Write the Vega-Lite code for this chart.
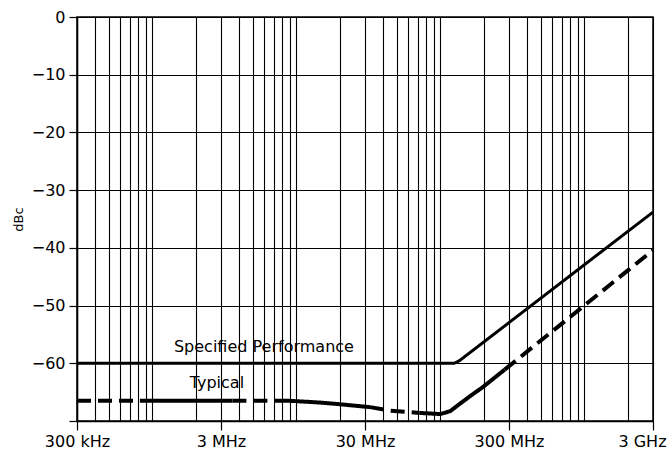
{
  "$schema": "https://vega.github.io/schema/vega-lite/v6.json",
  "width": 576,
  "height": 404,
  "autosize": {"type": "none"},
  "padding": {"left": 77, "top": 17, "right": 15, "bottom": 30},
  "background": "white",
  "config": {
    "view": {"stroke": "black", "strokeWidth": 1.5},
    "axis": {
      "labelFont": "DejaVu Sans",
      "titleFont": "DejaVu Sans",
      "labelColor": "black",
      "titleColor": "black",
      "domainColor": "black",
      "domainWidth": 1.5,
      "tickColor": "black",
      "tickWidth": 1.2,
      "gridColor": "black",
      "gridOpacity": 1,
      "gridWidth": 1.1,
      "labelFontSize": 16
    }
  },
  "datasets": {
    "curves": [
      {"series": "Specified", "seg": "s1", "style": "solid", "f": 300000, "dB": -60},
      {"series": "Specified", "seg": "s1", "style": "solid", "f": 125000000, "dB": -60},
      {"series": "Specified", "seg": "s1", "style": "solid", "f": 135000000, "dB": -59.6},
      {"series": "Specified", "seg": "s1", "style": "solid", "f": 3000000000, "dB": -33.8},
      {"series": "Typical", "seg": "t1", "style": "dashed", "f": 300000, "dB": -66.5},
      {"series": "Typical", "seg": "t1", "style": "dashed", "f": 820000, "dB": -66.5},
      {"series": "Typical", "seg": "t2", "style": "solid", "f": 820000, "dB": -66.5},
      {"series": "Typical", "seg": "t2", "style": "solid", "f": 3600000, "dB": -66.5},
      {"series": "Typical", "seg": "t3", "style": "dashed", "f": 3600000, "dB": -66.5},
      {"series": "Typical", "seg": "t3", "style": "dashed", "f": 8000000, "dB": -66.5},
      {"series": "Typical", "seg": "t4", "style": "solid", "f": 8000000, "dB": -66.5},
      {"series": "Typical", "seg": "t4", "style": "solid", "f": 9000000, "dB": -66.5},
      {"series": "Typical", "seg": "t4", "style": "solid", "f": 14600000, "dB": -66.8},
      {"series": "Typical", "seg": "t4", "style": "solid", "f": 20100000, "dB": -67.1},
      {"series": "Typical", "seg": "t4", "style": "solid", "f": 32500000, "dB": -67.6},
      {"series": "Typical", "seg": "t5", "style": "dashed", "f": 32500000, "dB": -67.6},
      {"series": "Typical", "seg": "t5", "style": "dashed", "f": 44800000, "dB": -68.2},
      {"series": "Typical", "seg": "t5", "style": "dashed", "f": 72000000, "dB": -68.6},
      {"series": "Typical", "seg": "t6", "style": "solid", "f": 72000000, "dB": -68.6},
      {"series": "Typical", "seg": "t6", "style": "solid", "f": 100000000, "dB": -68.8},
      {"series": "Typical", "seg": "t6", "style": "solid", "f": 117000000, "dB": -68.3},
      {"series": "Typical", "seg": "t6", "style": "solid", "f": 137000000, "dB": -67.0},
      {"series": "Typical", "seg": "t6", "style": "solid", "f": 161000000, "dB": -65.7},
      {"series": "Typical", "seg": "t6", "style": "solid", "f": 198000000, "dB": -64.1},
      {"series": "Typical", "seg": "t6", "style": "solid", "f": 280000000, "dB": -61.1},
      {"series": "Typical", "seg": "t7", "style": "dashed", "f": 280000000, "dB": -61.1},
      {"series": "Typical", "seg": "t7", "style": "dashed", "f": 3000000000, "dB": -40.4}
    ],
    "labels": [
      {"label": "Specified Performance", "f": 5960000, "dB": -57.1},
      {"label": "Typical", "f": 2810000, "dB": -63.4}
    ]
  },
  "encoding": {
    "x": {
      "field": "f",
      "type": "quantitative",
      "scale": {"type": "log", "domain": [300000, 3000000000], "nice": false},
      "axis": {
        "title": null,
        "values": [300000, 400000, 500000, 600000, 700000, 800000, 900000,
                   1000000, 2000000, 3000000, 4000000, 5000000, 6000000, 7000000, 8000000, 9000000,
                   10000000, 20000000, 30000000, 40000000, 50000000, 60000000, 70000000, 80000000, 90000000,
                   100000000, 200000000, 300000000, 400000000, 500000000, 600000000, 700000000, 800000000, 900000000,
                   1000000000, 2000000000, 3000000000],
        "labelExpr": "datum.value == 300000 ? '300 kHz' : datum.value == 3000000 ? '3 MHz' : datum.value == 30000000 ? '30 MHz' : datum.value == 300000000 ? '300 MHz' : datum.value == 3000000000 ? '3 GHz' : ''",
        "tickOpacity": {"condition": {"test": "indexof([300000, 3000000, 30000000, 300000000, 3000000000], datum.value) >= 0", "value": 1}, "value": 0},
        "labelOffset": {"condition": {"test": "datum.value == 3000000000", "value": -11}, "value": 0},
        "tickSize": 9,
        "labelPadding": 3,
        "labelFlush": false,
        "labelOverlap": false,
        "grid": true
      }
    },
    "y": {
      "field": "dB",
      "type": "quantitative",
      "scale": {"domain": [-70, 0], "nice": false},
      "axis": {
        "title": "dBc",
        "titleFontSize": 13,
        "titleFontWeight": "normal",
        "titlePadding": 6,
        "values": [-70, -60, -50, -40, -30, -20, -10, 0],
        "labelExpr": "datum.value == -70 ? '' : datum.label",
        "tickSize": 8,
        "labelPadding": 4,
        "grid": true
      }
    }
  },
  "layer": [
    {
      "data": {"name": "curves"},
      "transform": [{"filter": "datum.series == 'Specified'"}],
      "mark": {"type": "line", "color": "black", "strokeCap": "butt", "strokeWidth": 3},
      "encoding": {
        "detail": {"field": "seg"}
      }
    },
    {
      "data": {"name": "curves"},
      "transform": [{"filter": "datum.series == 'Typical'"}],
      "mark": {"type": "line", "color": "black", "strokeCap": "butt", "strokeWidth": 4},
      "encoding": {
        "detail": {"field": "seg"},
        "strokeDash": {
          "field": "style",
          "type": "nominal",
          "scale": {"domain": ["solid", "dashed"], "range": [[1, 0], [14, 7]]},
          "legend": null
        }
      }
    },
    {
      "data": {"name": "labels"},
      "mark": {"type": "text", "font": "DejaVu Sans", "fontSize": 16, "color": "black"},
      "encoding": {
        "text": {"field": "label"}
      }
    }
  ]
}
